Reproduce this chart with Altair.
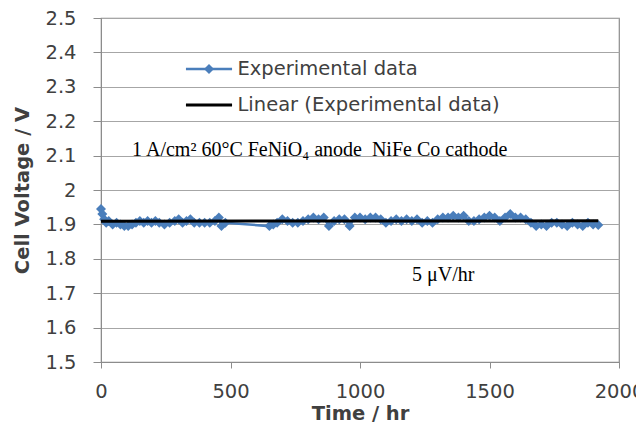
import altair as alt
import pandas as pd

times = [0, 5, 12, 20, 30, 45, 60, 75, 90, 105, 120, 135, 150, 165, 180, 195, 210, 225,
         245, 265, 285, 300, 315, 330, 345, 360, 380, 400, 420, 440, 455, 465, 480,
         650, 665, 680, 700, 720, 740, 760, 780, 800, 820, 840, 860, 880, 900, 920,
         940, 960, 980, 1000, 1020, 1040, 1060, 1080, 1100, 1120, 1140, 1160, 1180,
         1200, 1220, 1240, 1260, 1280, 1300, 1320, 1340, 1360, 1380, 1400, 1420, 1440,
         1460, 1480, 1500, 1520, 1540, 1560, 1580, 1600, 1620, 1640, 1660, 1680, 1700,
         1720, 1740, 1760, 1780, 1800, 1820, 1840, 1860, 1880, 1900, 1920]
volts = [1.945, 1.93, 1.915, 1.905, 1.91, 1.90, 1.905, 1.90, 1.895, 1.895, 1.90, 1.905,
         1.91, 1.905, 1.91, 1.905, 1.91, 1.905, 1.90, 1.905, 1.91, 1.915, 1.905, 1.91,
         1.915, 1.905, 1.905, 1.905, 1.905, 1.91, 1.92, 1.895, 1.905,
         1.895, 1.90, 1.905, 1.915, 1.91, 1.905, 1.905, 1.91, 1.915, 1.92, 1.915, 1.92,
         1.895, 1.91, 1.915, 1.915, 1.895, 1.92, 1.92, 1.915, 1.92, 1.92, 1.915, 1.905,
         1.91, 1.915, 1.91, 1.915, 1.91, 1.915, 1.905, 1.91, 1.905, 1.915, 1.92, 1.92,
         1.925, 1.92, 1.925, 1.91, 1.91, 1.915, 1.92, 1.925, 1.92, 1.91, 1.92, 1.93,
         1.92, 1.92, 1.915, 1.905, 1.895, 1.90, 1.895, 1.905, 1.905, 1.90, 1.895, 1.905,
         1.90, 1.895, 1.905, 1.90, 1.898]

x_ticks = [0, 500, 1000, 1500, 2000]
y_tick_count = 11

legend_labels = ["Experimental data", "Linear (Experimental data)"]
annotation = "1 A/cm² 60°C FeNiO₄ anode \u00a0NiFe Co cathode"
slope_label = "5 μV/hr"

BLUE = "#4a7ebb"
SANS = "DejaVu Sans"
SERIF = "Liberation Serif"

df = pd.DataFrame({"t": times, "v": volts})

xs = alt.Scale(domain=[0, 2000], nice=False)
ys = alt.Scale(domain=[1.5, 2.5], nice=False, zero=False)

x_enc = alt.X("t:Q", scale=xs, axis=alt.Axis(
    values=x_ticks, format="d", title="Time / hr", grid=False,
    tickSize=6, labelPadding=14, titlePadding=4,
    labelOverlap=False, labelFlush=False, labelBound=False))
y_enc = alt.Y("v:Q", scale=ys, axis=alt.Axis(
    tickCount=y_tick_count, format="~g", title="Cell Voltage / V", grid=True,
    tickSize=8, labelPadding=17, titlePadding=12,
    labelOverlap=False, labelFlush=False, labelBound=False, labelSeparation=0))

data_line = alt.Chart(df).mark_line(
    color=BLUE, strokeWidth=2.5,
    point=alt.OverlayMarkDef(shape="diamond", size=100, filled=True, color=BLUE, opacity=1)
).encode(x=x_enc, y=y_enc)

reg_line = alt.Chart(df).transform_regression("t", "v").mark_line(
    color="black", strokeWidth=3
).encode(x="t:Q", y="v:Q")

# manual legend (placed in data space)
leg = pd.DataFrame({
    "label": legend_labels,
    "x1": [328, 328], "x2": [506, 506], "xm": [417, 417], "xt": [527, 527],
    "y": [2.352, 2.247], "col": [BLUE, "black"], "w": [2.5, 3],
})
leg_rules = alt.Chart(leg).mark_rule().encode(
    x="x1:Q", x2="x2:Q", y="y:Q",
    color=alt.Color("col:N", scale=None),
    strokeWidth=alt.StrokeWidth("w:Q", scale=None),
)
leg_diamond = alt.Chart(leg.iloc[[0]]).mark_point(
    shape="diamond", size=100, filled=True, color=BLUE, opacity=1
).encode(x="xm:Q", y="y:Q")
leg_text = alt.Chart(leg).mark_text(
    align="left", baseline="middle", font=SANS, fontSize=19.5, color="#404040"
).encode(x="xt:Q", y="y:Q", text="label:N")

notes = pd.DataFrame({"x": [120, 1201], "y": [2.116, 1.753], "txt": [annotation, slope_label]})
note_text = alt.Chart(notes).mark_text(
    align="left", baseline="middle", font=SERIF, fontSize=20, color="black"
).encode(x="x:Q", y="y:Q", text="txt:N")

chart = alt.layer(
    data_line, reg_line, leg_rules, leg_diamond, leg_text, note_text
).properties(
    width=518, height=344,
    autosize=alt.AutoSizeParams(type="none"),
    padding={"left": 93, "top": 10, "right": 17, "bottom": 64},
).configure_view(
    stroke="#8c8c8c", strokeWidth=1.2
).configure_axis(
    labelFont=SANS, labelFontSize=19.5, labelColor="#404040",
    titleFont=SANS, titleFontSize=19.5, titleFontWeight="bold", titleColor="#404040",
    domainColor="#8c8c8c", tickColor="#8c8c8c", gridColor="#a6a6a6",
)

chart.save("out.html", embed_options={"renderer": "svg", "actions": False})
